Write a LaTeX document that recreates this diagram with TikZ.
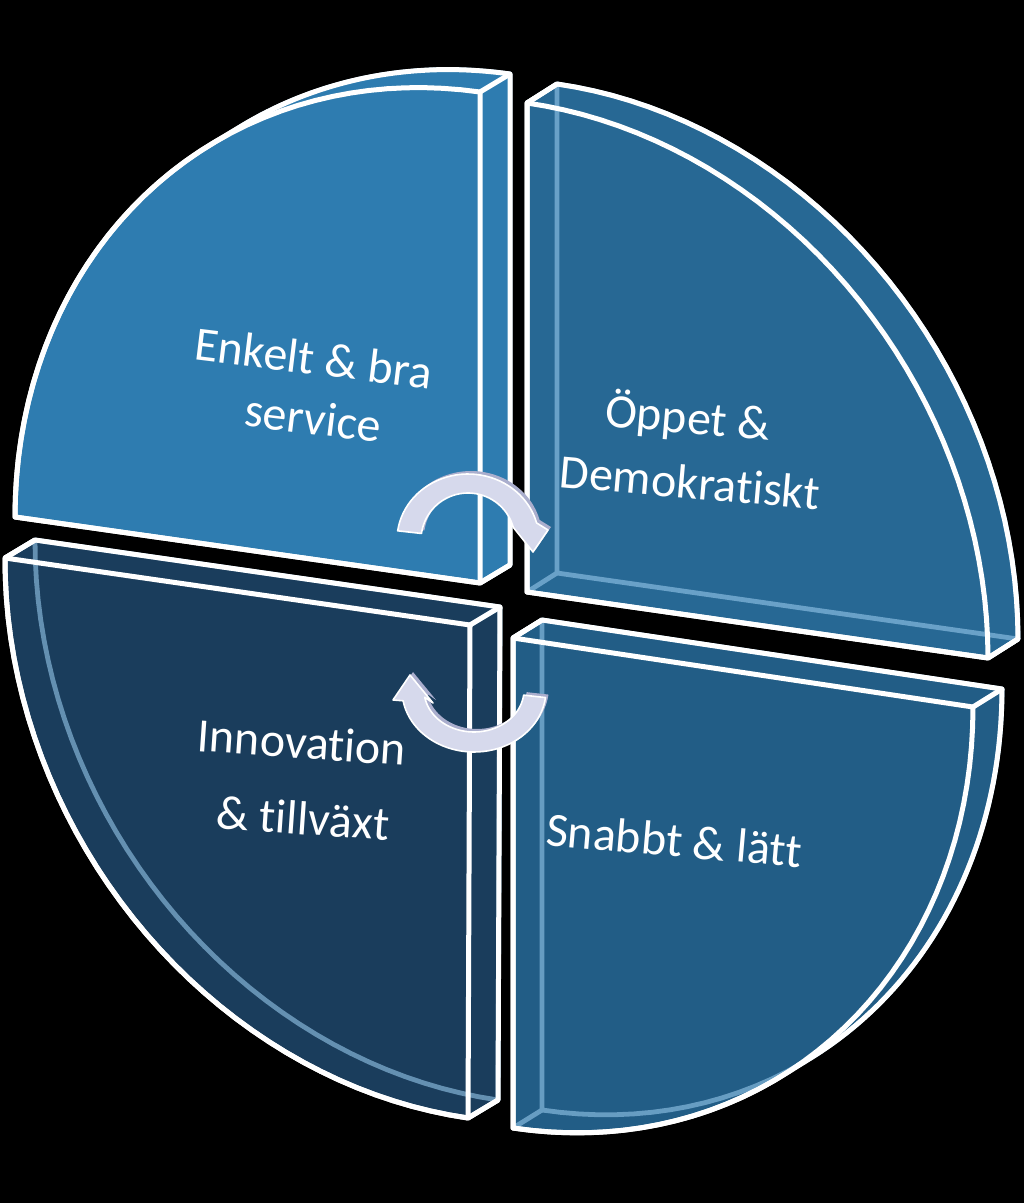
\documentclass[tikz,border=0pt]{standalone}
\usepackage{fontspec}
\setmainfont{Carlito}[Ligatures={NoCommon,NoContextual}]
\usetikzlibrary{calc}
\definecolor{cTL}{RGB}{46,124,176}
\definecolor{cTR}{RGB}{39,104,148}
\definecolor{cBR}{RGB}{34,93,134}
\definecolor{cBL}{RGB}{26,61,92}
\definecolor{hidden}{RGB}{150,200,235}
\definecolor{arrowcol}{RGB}{214,217,236}
\definecolor{arrowside}{RGB}{170,174,205}
\newcommand\setpiece[8]{\def\Cx{#1}\def\Cy{#2}\def\ux{#3}\def\uy{#4}\def\vx{#5}\def\vy{#6}\def\dx{#7}\def\dy{#8}}
\newcommand\arcto[4]{-- plot[domain=#3:#4,samples=40,variable=\t]({\Cx+(#1)+cos(\t)*(\vx)+sin(\t)*(\ux)},{\Cy+(#2)+cos(\t)*(\vy)+sin(\t)*(\uy)})}
\newcommand\piececoords[1]{%
 \coordinate (#1C) at (\Cx,\Cy);
 \coordinate (#1P) at ({\Cx+(\ux)},{\Cy+(\uy)});
 \coordinate (#1Q) at ({\Cx+(\vx)},{\Cy+(\vy)});
 \coordinate (#1c) at ({\Cx+(\dx)},{\Cy+(\dy)});
 \coordinate (#1p) at ({\Cx+(\ux)+(\dx)},{\Cy+(\uy)+(\dy)});
 \coordinate (#1q) at ({\Cx+(\vx)+(\dx)},{\Cy+(\vy)+(\dy)});
}
% #1 prefix, #2 colour, #3 opacity, #4 hull path
\newcommand\drawpiece[4]{%
 \fill[#2] #4;
 \draw[hidedge] (#1c) -- (#1p) \arcto{\dx}{\dy}{90}{0} -- cycle;
 \draw[hidedge] (#1C) -- (#1c) (#1P) -- (#1p) (#1Q) -- (#1q);
 \fill[#2,opacity=#3] #4;
 \draw[edge] #4;
 \draw[edge] (#1C) -- (#1P) \arcto{0}{0}{90}{0} -- cycle;
}
\begin{document}
\begin{tikzpicture}[x=0.5pt,y=-0.5pt,
  edge/.style={white,line width=2.5pt,line join=round},
  hidedge/.style={hidden,line width=2.4pt,line join=round},
  txt/.style={text=white,font=\fontsize{24}{29}\selectfont,inner sep=0pt},
  arrowshape/.style={fill=arrowcol,draw=white,line width=0.8pt,line join=round}]
\fill[black] (0,0) rectangle (1024,1203);
\useasboundingbox (0,0) rectangle (1024,1203);

% top-left piece
\setpiece{480}{583}{0}{-491}{-465}{-66}{30}{-18}
\piececoords{tl}
\drawpiece{tl}{cTL}{1}{(tlC) -- (tlc) -- (tlp) \arcto{\dx}{\dy}{90}{54.9} \arcto{0}{0}{54.9}{0} -- cycle}
\draw[edge] (tlP) -- (tlp) (tlC) -- (tlc);

% top-right piece
\setpiece{527}{592}{0}{-489}{461}{66}{30}{-19}
\piececoords{tr}
\drawpiece{tr}{cTR}{0.4}{(trC) -- (trP) -- (trp) \arcto{\dx}{\dy}{90}{0} -- (trQ) -- cycle}
\draw[edge] (trP) -- (trp) (trQ) -- (trq);

% bottom-left piece
\setpiece{470}{625}{-2}{493}{-465}{-67}{30}{-18}
\piececoords{bl}
\drawpiece{bl}{cBL}{0.4}{(blQ) -- (blq) -- (blc) -- (blp) -- (blP) \arcto{0}{0}{90}{0} -- cycle}
\draw[edge] (blC) -- (blc) (blP) -- (blp) (blQ) -- (blq);

% bottom-right piece
\setpiece{513}{638}{0}{490}{460}{69}{29}{-18}
\piececoords{br}
\drawpiece{br}{cBR}{0.4}{(brC) -- (brc) -- (brq) \arcto{\dx}{\dy}{0}{54.1} \arcto{0}{0}{54.1}{90} -- cycle}
\draw[edge] (brC) -- (brc) (brQ) -- (brq);

% labels
\node[txt,rotate=-7] (t1a) at (314,358) {Enkelt \& bra};
\node[txt,rotate=-7] (t1b) at (313,418) {service};
\node[txt,rotate=-5] (t2a) at (688,418) {Öppet \&};
\node[txt,rotate=-5] (t2b) at (690,482) {Demokratiskt};
\node[txt,rotate=-4] (t3a) at (302,742) {Innovation};
\node[txt,rotate=-4] (t3b) at (303,818) {\& tillväxt};
\node[txt,rotate=-5] (t4) at (674,840) {Snabbt \& lätt};

% upper circular arrow
\fill[arrowside,shift={(3,-3)}] plot[domain=172:15,samples=40,variable=\t] ({468+71*cos(\t)},{540-66*sin(\t)}) -- (548,530) -- (533,552) -- (513,527) -- plot[domain=15:172,samples=40,variable=\t] ({468+47*cos(\t)},{540-47*sin(\t)}) -- cycle;
\path[arrowshape] plot[domain=172:15,samples=40,variable=\t] ({468+71*cos(\t)},{540-66*sin(\t)}) -- (548,530) -- (533,552) -- (513,527) -- plot[domain=15:172,samples=40,variable=\t] ({468+47*cos(\t)},{540-47*sin(\t)}) -- cycle;

% lower circular arrow
\fill[arrowside,shift={(3,-3)}] plot[domain=-7:-170,samples=40,variable=\t] ({474+50*cos(\t)},{690-42*sin(\t)}) -- (433,703) -- (410,675) -- (393,700) -- plot[domain=-170:-7,samples=40,variable=\t] ({474+72*cos(\t)},{690-62*sin(\t)}) -- cycle;
\path[arrowshape] plot[domain=-7:-170,samples=40,variable=\t] ({474+50*cos(\t)},{690-42*sin(\t)}) -- (433,703) -- (410,675) -- (393,700) -- plot[domain=-170:-7,samples=40,variable=\t] ({474+72*cos(\t)},{690-62*sin(\t)}) -- cycle;
\end{tikzpicture}
\end{document}
